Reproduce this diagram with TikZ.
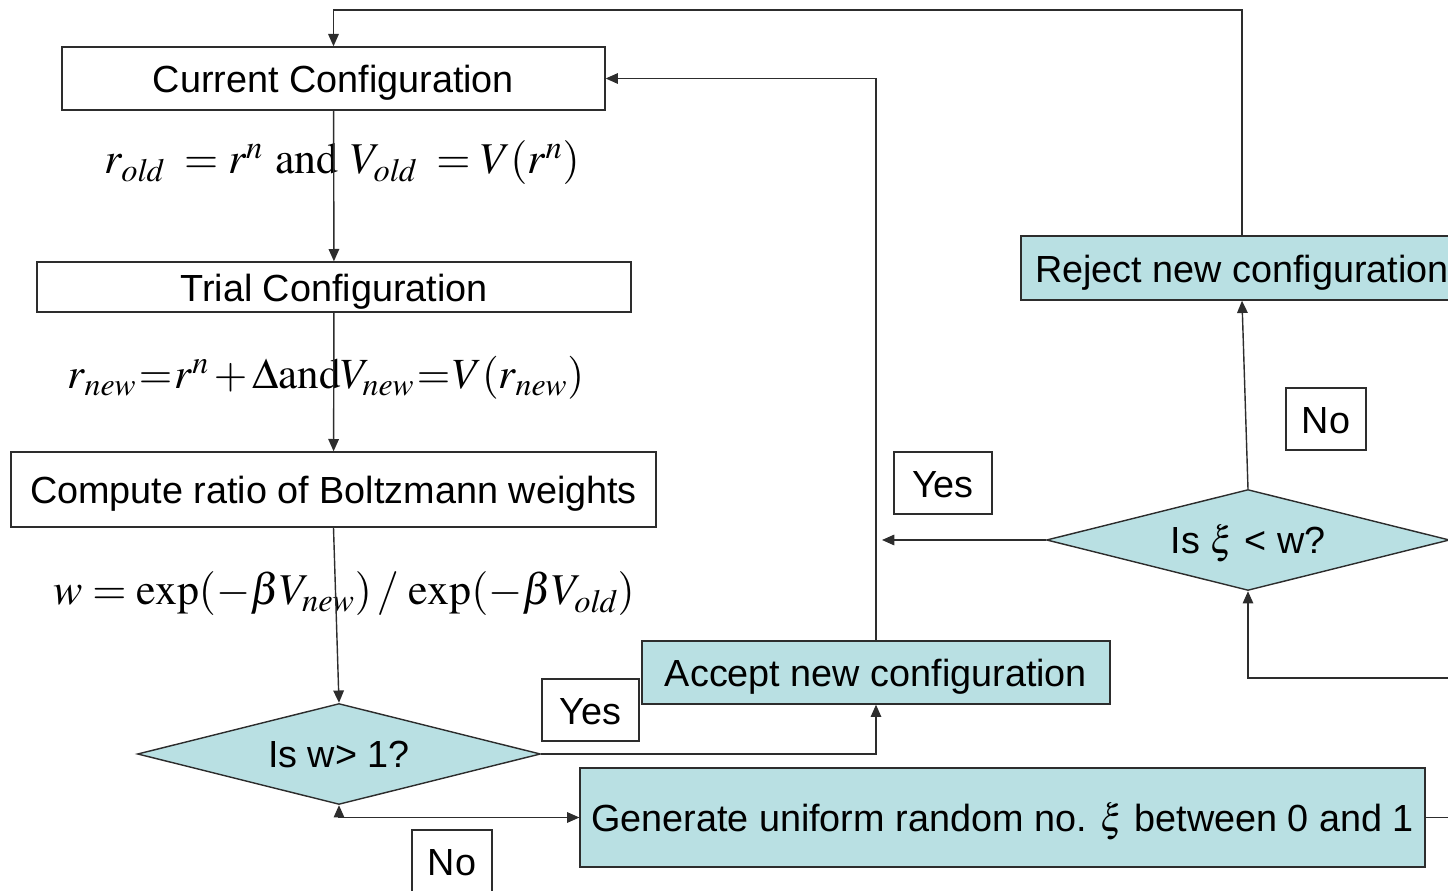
\documentclass[tikz,border=0pt]{standalone}
\usepackage{mathptmx}
\usepackage[no-math]{fontspec}
\setmainfont{Liberation Sans}
\usetikzlibrary{arrows.meta,shapes.geometric}
\definecolor{boxfill}{RGB}{185,224,227}
\definecolor{linegray}{RGB}{45,45,45}

\begin{document}
\begin{tikzpicture}[x=0.02cm,y=-0.02cm,>={Triangle[length=7pt,width=6pt]},thick,draw=linegray,
    every node/.style={font=\fontsize{21.5}{24}\selectfont},
    box/.style={draw=linegray,rectangle,inner sep=0pt,text height=16pt,text depth=0pt},
    bluebox/.style={box,fill=boxfill},
    decision/.style={draw=linegray,diamond,fill=boxfill,inner sep=0pt,aspect=4,
      text height=15pt,text depth=0pt,minimum width=8.06cm,minimum height=2.02cm},
    answer/.style={box,minimum width=1.6cm,minimum height=1.24cm},
    formula/.style={font=\fontsize{25}{30}\selectfont}]

  \clip (0,0) rectangle (1448,891);

  % left column
  \node[box,minimum width=10.86cm,minimum height=1.26cm] (cur) at (333.5,78.5) {Current Configuration};
  \node[formula] (f1) at (342,163) {$r_{\mathit{old}}\;=r^{n}\ \mathrm{and}\ V_{\mathit{old}}\;=V(r^{n})$};
  \node[box,minimum width=11.88cm,minimum height=1cm] (trial) at (334,287) {Trial Configuration};
  \node[formula,font=\fontsize{24.5}{30}\selectfont] (f2) at (326,378) {\thickmuskip=1mu\medmuskip=2mu$r_{\mathit{new}}=r^{n}+\Delta\mathrm{and}V_{\mathit{new}}=V(r_{\mathit{new}})$};
  \node[box,minimum width=12.9cm,minimum height=1.5cm] (comp) at (333.5,489.5) {Compute ratio of Boltzmann weights};
  \node[formula] (f3) at (344,594) {$w=\exp(-\beta V_{\mathit{new}})\,/\,\exp(-\beta V_{\mathit{old}})$};
  \node[decision] (d1) at (339,754) {Is w> 1?};

  % right part
  \node[bluebox,minimum width=9.36cm,minimum height=1.26cm] (acc) at (876,672.5) {Accept new configuration};
  \node[bluebox,minimum width=16.9cm,minimum height=1.98cm] (gen) at (1002.5,817.5) {Generate uniform random no. $\xi$ between 0 and 1};
  \node[decision] (d2) at (1248,540) {Is $\xi$ < w?};
  \node[bluebox,minimum width=8.84cm,minimum height=1.28cm] (rej) at (1242,268) {Reject new configuration};

  % yes / no labels
  \node[answer,minimum width=1.94cm] (yes1) at (590.5,710) {Yes};
  \node[answer,minimum width=1.96cm] (yes2) at (943,483) {Yes};
  \node[answer] (no1) at (1326,419) {No};
  \node[answer] (no2) at (452,861) {No};

  \coordinate (top) at (334,10);
  \coordinate (stop) at (882,540);
  \coordinate (out1) at (1470,817.5);
  \coordinate (in1) at (1470,678);

  \path[->] (cur) edge (trial)
    (trial) edge (comp)
    (comp.south) edge (d1.north)
    (d2.north) edge (rej.south)
    (d2.west) edge (stop);

  \draw[->] (rej.north) -- (rej.north |- top) -| (cur.north);
  \draw[->] (d1.east) -| (acc.south);
  \draw[->] (acc.north) |- (cur.east);
  \draw[<->] (d1.south) |- (gen.west);
  \draw (gen.east) -- (out1);
  \draw[->] (in1) -| (d2.south);
\end{tikzpicture}
\end{document}
